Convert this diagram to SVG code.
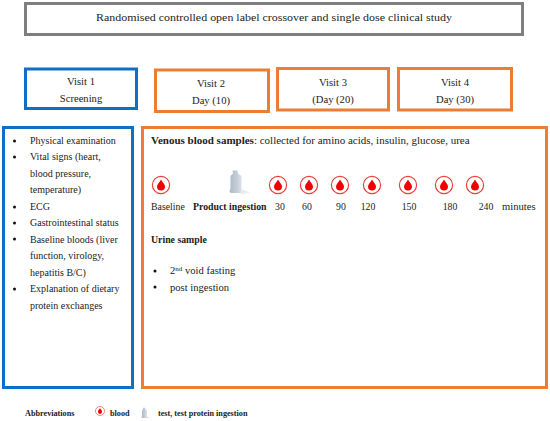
<svg xmlns="http://www.w3.org/2000/svg" width="550" height="421" viewBox="0 0 550 421">
<style>
text{font-family:"Liberation Serif","DejaVu Serif",serif;font-size:10.6px;fill:#222}
.m{text-anchor:middle}
.b{font-weight:bold}
.l{font-size:10px}
.h{font-size:11px}
.t{font-size:9.8px}
.s{font-size:8.2px;font-weight:bold}
rect.box{fill:#fff;stroke-width:3}
.g{stroke:#7f7f7f}.bl{stroke:#0f6fc6}.o{stroke:#ed7d31}
</style>
<defs>
<linearGradient id="pg" x1="0" x2="1" y1="0" y2="0"><stop offset="0" stop-color="#aeb8c6"/><stop offset=".6" stop-color="#c6ced8"/><stop offset="1" stop-color="#e2e6ea"/></linearGradient>
<g id="drop">
<circle r="8.6" fill="#fff" stroke="#e8413c" stroke-width="1.2"/>
<path d="M0-5.6C1-3.4 4-1 4 1.600A4 4 0 0 1-4 1.600C-4-1-1-3.400 0-5.600Z" fill="#f00000"/>
</g>
<g id="pouch">
<path d="M-2.500-11.500h5l.5 3 3.500 2.500v12l1 4.500-2 .5h-9.500l-1.500-1 1-4v-12l2.500-2.500Z" fill="url(#pg)"/>
<path d="M6 7l9 3.500-9 2Z" fill="#ececec"/>
</g>
</defs>
<rect width="550" height="421" fill="#fff"/>
<g id="title"><rect class="box g" x="25.500" y="3.500" width="497" height="31"/><text class="m" x="274" y="21" textLength="356" lengthAdjust="spacingAndGlyphs">Randomised controlled open label crossover and single dose clinical study</text></g>
<g id="visit1"><rect class="box bl" x="25.500" y="69" width="111" height="39.500"/><text class="m" x="81" y="85">Visit 1</text><text class="m" x="81" y="102">Screening</text></g>
<g id="visit2"><rect class="box o" x="155.500" y="70" width="113" height="41.500"/><text class="m" x="211" y="87">Visit 2</text><text class="m" x="211" y="104">Day (10)</text></g>
<g id="visit3"><rect class="box o" x="277.500" y="68.500" width="111" height="41.500"/><text class="m" x="333" y="86">Visit 3</text><text class="m" x="333" y="103">(Day (20)</text></g>
<g id="visit4"><rect class="box o" x="398.500" y="68.500" width="113" height="41.500"/><text class="m" x="455" y="86">Visit 4</text><text class="m" x="455" y="103">Day (30)</text></g>
<g id="screening"><rect class="box bl" x="3.500" y="127.500" width="129" height="260"/>
<g fill="#111"><circle cx="14.500" cy="141" r="1.500"/><circle cx="14.500" cy="157" r="1.500"/><circle cx="14.500" cy="207" r="1.500"/><circle cx="14.500" cy="223" r="1.500"/><circle cx="14.500" cy="239" r="1.500"/><circle cx="14.500" cy="289" r="1.500"/></g>
<g class="l">
<text class="l" x="30" y="144">Physical examination</text>
<text class="l" x="30" y="160">Vital signs (heart,</text>
<text class="l" x="30" y="177">blood pressure,</text>
<text class="l" x="30" y="193">temperature)</text>
<text class="l" x="30" y="210">ECG</text>
<text class="l" x="30" y="226">Gastrointestinal status</text>
<text class="l" x="30" y="243">Baseline bloods (liver</text>
<text class="l" x="30" y="259">function, virology,</text>
<text class="l" x="30" y="276">hepatitis B/C)</text>
<text class="l" x="30" y="292">Explanation of dietary</text>
<text class="l" x="30" y="309">protein exchanges</text>
</g>
</g>
<g id="visits"><rect class="box o" x="142.500" y="127.500" width="404" height="260"/>
<text class="h" x="151" y="144"><tspan class="b">Venous blood samples</tspan>: collected for amino acids, insulin, glucose, urea</text>
<use href="#drop" x="161" y="185"/><use href="#pouch" x="235" y="182"/>
<use href="#drop" x="278" y="185"/><use href="#drop" x="309" y="185"/><use href="#drop" x="340" y="185"/><use href="#drop" x="372" y="185"/><use href="#drop" x="408" y="185"/><use href="#drop" x="444" y="185"/><use href="#drop" x="475" y="185"/>
<text class="t" x="151" y="210">Baseline</text>
<text class="t b" x="193" y="210">Product ingestion</text>
<text class="t m" x="280" y="210">30</text><text class="t m" x="307" y="210">60</text><text class="t m" x="341" y="210">90</text><text class="t m" x="368" y="210">120</text><text class="t m" x="409" y="210">150</text><text class="t m" x="450" y="210">180</text><text class="t m" x="486" y="210">240</text>
<text x="502" y="210">minutes</text>
<text class="t b" x="151" y="243">Urine sample</text>
<g fill="#111"><circle cx="155" cy="271" r="1.500"/><circle cx="155" cy="287" r="1.500"/></g>
<text x="170" y="274">2<tspan font-size="7" dy="-3">nd</tspan><tspan dy="3"> void fasting</tspan></text>
<text x="170" y="291">post ingestion</text>
</g>
<g id="legend">
<text class="s" x="25" y="416">Abbreviations</text>
<use href="#drop" transform="translate(100 411) scale(.52)"/>
<text class="s" x="110" y="416">blood</text>
<use href="#pouch" transform="translate(144 413) scale(.45)"/>
<text class="s" x="158" y="416">test, test protein ingestion</text>
</g>
</svg>
